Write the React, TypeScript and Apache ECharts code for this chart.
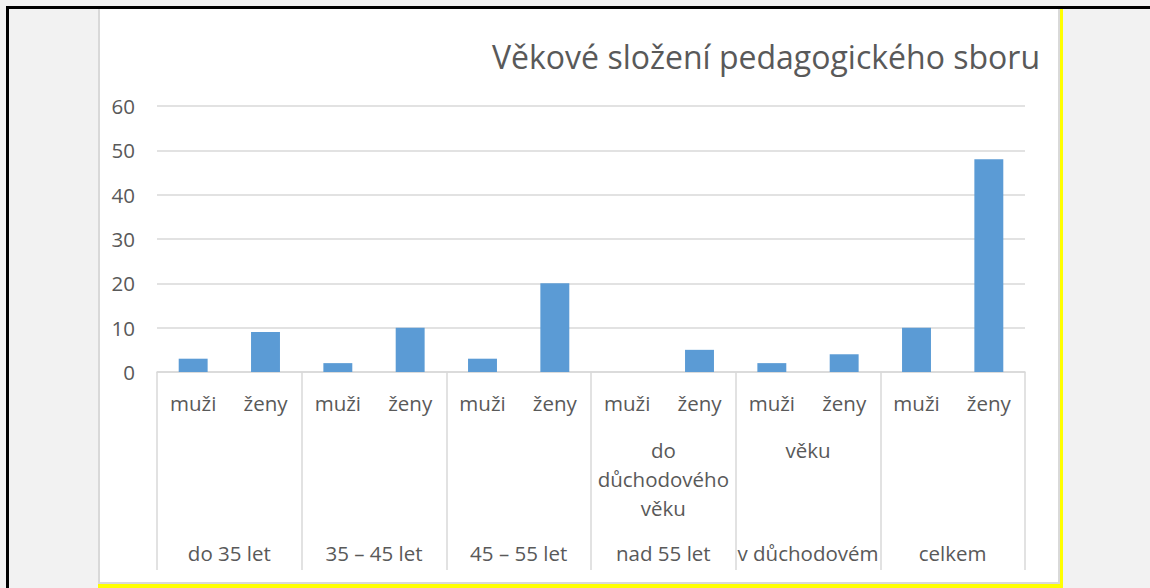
import React, { useEffect, useRef } from "react";
import * as echarts from "echarts";

const title = "Věkové složení pedagogického sboru";
const groups = ["do 35 let", "35 – 45 let", "45 – 55 let", "nad 55 let", "v důchodovém", "celkem"];
const groupExtra = ["", "", "", "do\ndůchodového\nvěku", "věku", ""];
const subLabels = ["muži", "ženy"];
const muzi = [3, 2, 3, 0, 2, 10];
const zeny = [9, 10, 20, 5, 4, 48];
const yTicks = { min: 0, max: 60, interval: 10 };

const FONT = "'Open Sans', 'Noto Sans', sans-serif";
const TXT = "#595959";
const GRIDC = "#d9d9d9";
const FS = 20.5;

export default function App() {
  const ref = useRef<HTMLDivElement>(null);
  useEffect(() => {
    if (!ref.current) return;
    const chart = echarts.init(ref.current, undefined, { renderer: "svg" });
    const cats: string[] = [];
    const values: number[] = [];
    groups.forEach((_, i) => {
      cats.push(subLabels[0], subLabels[1]);
      values.push(muzi[i], zeny[i]);
    });
    chart.setOption({
      animation: false,
      backgroundColor: "transparent",
      textStyle: { fontFamily: FONT },
      title: {
        text: title,
        right: 105,
        top: 35,
        textStyle: { fontFamily: FONT, fontSize: 32, fontWeight: "normal", color: TXT },
      },
      grid: { left: 157, right: 125, top: 106, bottom: 216, containLabel: false },
      yAxis: {
        type: "value",
        min: yTicks.min,
        max: yTicks.max,
        interval: yTicks.interval,
        axisLine: { show: false },
        axisTick: { show: false },
        splitLine: { lineStyle: { color: GRIDC, width: 1.5 } },
        axisLabel: { fontFamily: FONT, fontSize: FS, color: TXT, margin: 22 },
      },
      xAxis: [
        {
          type: "category",
          data: cats,
          position: "bottom",
          axisLine: { lineStyle: { color: GRIDC, width: 1.5 } },
          axisTick: { show: false },
          axisLabel: { interval: 0, fontFamily: FONT, fontSize: FS, color: TXT, margin: 18, lineHeight: 26 },
        },
        {
          type: "category",
          data: groups,
          position: "bottom",
          axisLine: { show: false },
          axisTick: { show: true, length: 198, alignWithLabel: false, interval: 0, lineStyle: { color: GRIDC, width: 1.5 } },
          axisLabel: { interval: 0, fontFamily: FONT, fontSize: FS, color: TXT, margin: 168, lineHeight: 26 },
        },
        {
          type: "category",
          data: groupExtra,
          position: "bottom",
          axisLine: { show: false },
          axisTick: { show: false },
          axisLabel: { interval: 0, fontFamily: FONT, fontSize: FS, color: TXT, margin: 63, lineHeight: 29 },
        },
      ],
      series: [
        {
          type: "bar",
          xAxisIndex: 0,
          data: values,
          barWidth: "40%",
          itemStyle: { color: "#5b9bd5" },
        },
      ],
    });
    return () => chart.dispose();
  }, []);

  return (
    <div style={{ position: "fixed", left: 0, top: 0, width: 1150, height: 588, background: "#f2f2f2", overflow: "hidden" }}>
      <div style={{ position: "absolute", left: 6, top: 6, width: 1144, height: 3, background: "#000" }} />
      <div style={{ position: "absolute", left: 6, top: 6, width: 3, height: 582, background: "#000" }} />
      <div style={{ position: "absolute", left: 98, top: 9, width: 965, height: 579, background: "#ffff00" }} />
      <div style={{ position: "absolute", left: 98, top: 9, width: 962, height: 575, background: "#d9d9d9" }} />
      <div style={{ position: "absolute", left: 100, top: 9, width: 958, height: 573, background: "#ffffff" }} />
      <div ref={ref} style={{ position: "absolute", left: 0, top: 0, width: 1150, height: 588 }} />
    </div>
  );
}
